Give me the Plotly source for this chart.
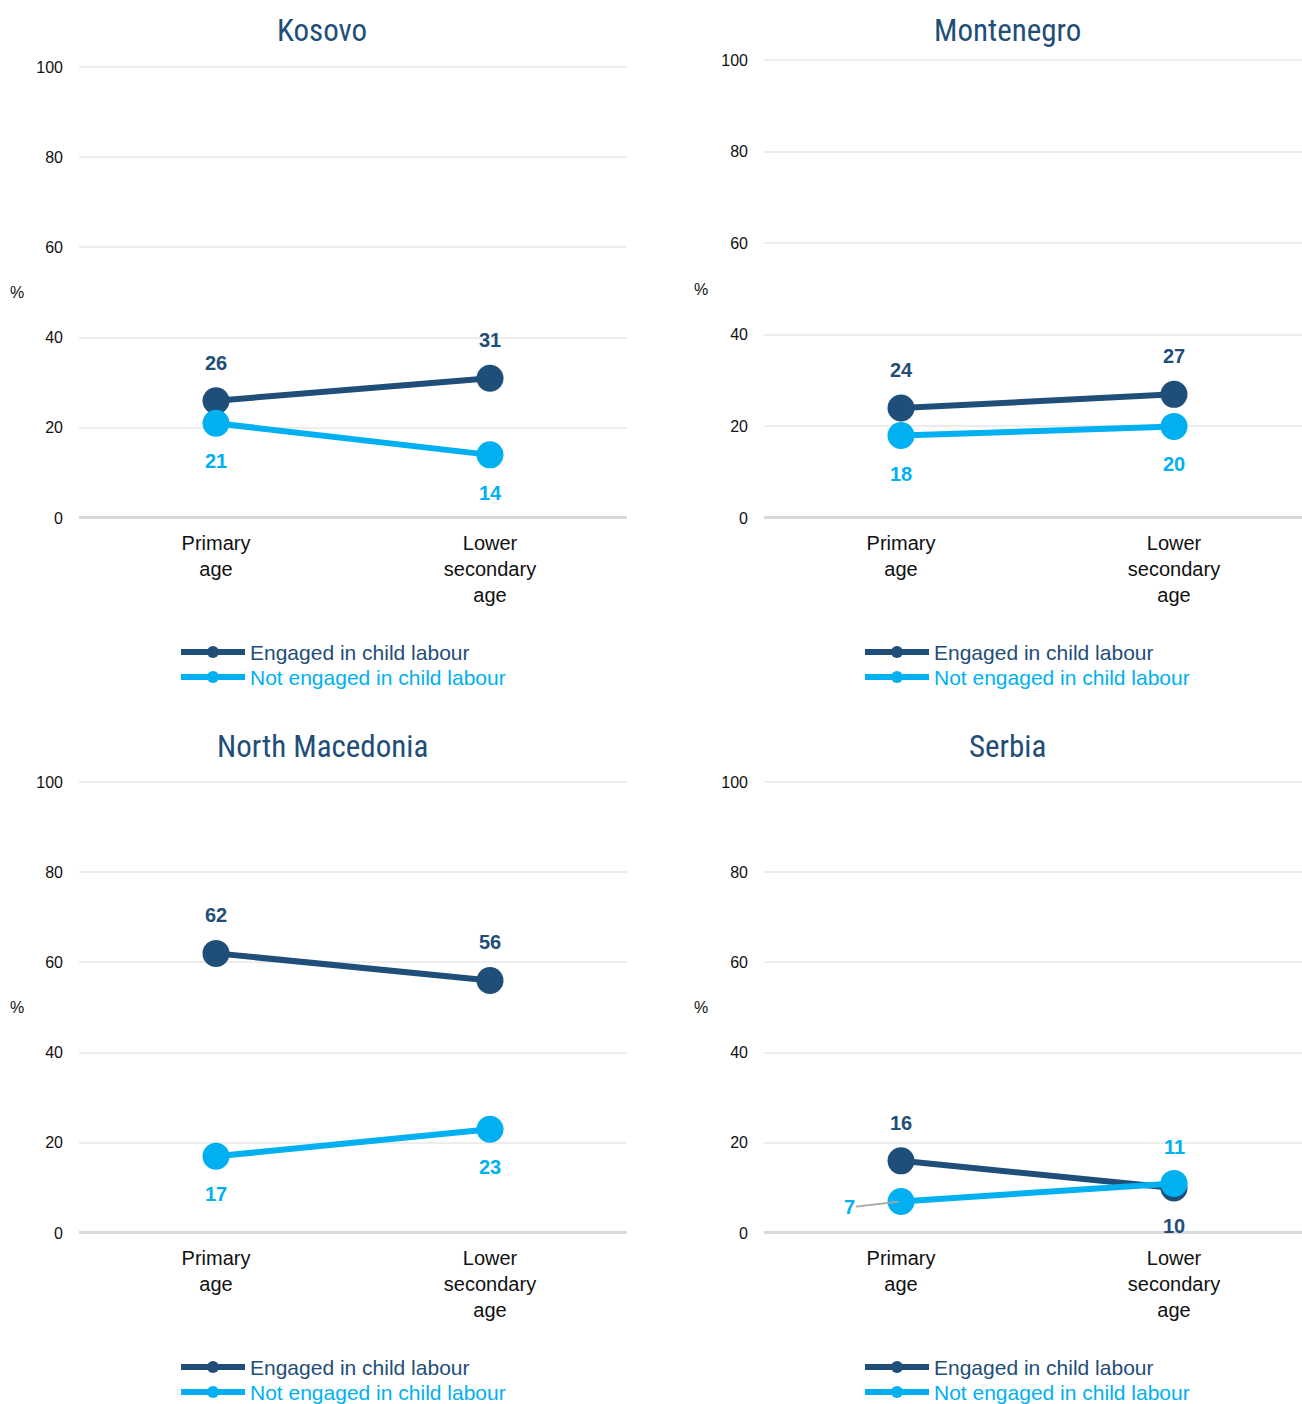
import plotly.graph_objects as go

# ---- data -------------------------------------------------------------
countries = ["Kosovo", "Montenegro", "North Macedonia", "Serbia"]
age_groups = ["Primary<br>age", "Lower<br>secondary<br>age"]
engaged = {
    "Kosovo": [26, 31],
    "Montenegro": [24, 27],
    "North Macedonia": [62, 56],
    "Serbia": [16, 10],
}
not_engaged = {
    "Kosovo": [21, 14],
    "Montenegro": [18, 20],
    "North Macedonia": [17, 23],
    "Serbia": [7, 11],
}
series_names = ["Engaged in child labour", "Not engaged in child labour"]
y_ticks = [0, 20, 40, 60, 80, 100]

# ---- styling ----------------------------------------------------------
W, H = 1302, 1404
DARK = "#1F4E79"
LIGHT = "#00B0F0"
FONT = "Liberation Sans, Arial, sans-serif"
TITLE_FONT = "Liberation Sans Narrow, Arial Narrow, Roboto Condensed, Liberation Sans, sans-serif"
Y_TOP = 100.4  # a little headroom so the 100 gridline is drawn


def px_x(x):
    return x / W


def px_y(y):
    return 1 - y / H


# panel geometry in pixels: x0/x1 plot edges, yt = position of 100, yb = position of 0
panels = {
    "Kosovo": dict(x0=79, x1=627, yt=67, yb=518, cx=216, step=274, title=(322, 30), pct=17, leg=(181, 652)),
    "Montenegro": dict(x0=764, x1=1302, yt=60, yb=518, cx=901, step=273, title=(1007, 30), pct=701, leg=(865, 652)),
    "North Macedonia": dict(x0=79, x1=627, yt=782, yb=1233, cx=216, step=274, title=(322, 746), pct=17, leg=(181, 1367)),
    "Serbia": dict(x0=764, x1=1302, yt=782, yb=1233, cx=901, step=273, title=(1007, 746), pct=701, leg=(865, 1367)),
}

# label placement per point: (dx, dy) pixel shifts from the marker centre
label_pos_default = {"eng": (0, 38), "not": (0, -38)}
label_pos_override = {
    ("Serbia", "eng", 1): (0, -38),
    ("Serbia", "not", 1): (0, 36),
}

fig = go.Figure()
annotations = []
shapes = []

for i, c in enumerate(countries, start=1):
    p = panels[c]
    xa = "x" if i == 1 else f"x{i}"
    ya = "y" if i == 1 else f"y{i}"
    xkey = "xaxis" if i == 1 else f"xaxis{i}"
    ykey = "yaxis" if i == 1 else f"yaxis{i}"

    r0 = -(p["cx"] - p["x0"]) / p["step"]
    r1 = 1 + (p["x1"] - (p["cx"] + p["step"])) / p["step"]
    top_px = p["yb"] - (p["yb"] - p["yt"]) * Y_TOP / 100

    fig.update_layout({
        xkey: dict(
            domain=[px_x(p["x0"]), px_x(p["x1"])],
            anchor=ya,
            type="category",
            range=[r0, r1],
            showgrid=False,
            zeroline=False,
            showline=False,
            ticks="",
            tickfont=dict(family=FONT, size=20, color="#111111"),
            ticklabelstandoff=11,
            automargin=False,
            fixedrange=True,
        ),
        ykey: dict(
            domain=[px_y(p["yb"]), px_y(top_px)],
            anchor=xa,
            range=[0, Y_TOP],
            tickvals=y_ticks,
            showgrid=True,
            gridcolor="#EDEDED",
            gridwidth=2,
            zeroline=True,
            zerolinecolor="#D9D9D9",
            zerolinewidth=2.5,
            showline=False,
            ticks="",
            tickfont=dict(family=FONT, size=16, color="#111111"),
            ticklabelstandoff=15,
            automargin=False,
            fixedrange=True,
        ),
    })

    for key, vals, col in (("eng", engaged[c], DARK), ("not", not_engaged[c], LIGHT)):
        fig.add_trace(go.Scatter(
            x=age_groups, y=vals, xaxis=xa, yaxis=ya,
            mode="lines+markers",
            line=dict(color=col, width=6),
            marker=dict(color=col, size=27),
            cliponaxis=False,
            showlegend=False,
            name=series_names[0] if key == "eng" else series_names[1],
            hoverinfo="x+y",
        ))
        for j, v in enumerate(vals):
            if (c, key, j) == ("Serbia", "not", 0):
                # small value pulled aside with a leader line
                annotations.append(dict(
                    x=age_groups[j], y=v, xref=xa, yref=ya,
                    text=f"<b>{v}</b>", showarrow=True,
                    ax=-52, ay=6, arrowhead=0, arrowwidth=1.8,
                    arrowcolor="#A6A6A6", standoff=2,
                    font=dict(family=FONT, size=20, color=col),
                ))
                continue
            dx, dy = label_pos_override.get((c, key, j), label_pos_default[key])
            annotations.append(dict(
                x=age_groups[j], y=v, xref=xa, yref=ya,
                text=f"<b>{v}</b>", showarrow=False,
                xshift=dx, yshift=dy,
                font=dict(family=FONT, size=20, color=col),
            ))

    # panel title
    tx, ty = p["title"]
    annotations.append(dict(
        x=px_x(tx), y=px_y(ty), xref="paper", yref="paper",
        text=c, showarrow=False, xanchor="center", yanchor="middle",
        font=dict(family=TITLE_FONT, size=31, color=DARK),
    ))
    # unit label
    annotations.append(dict(
        x=px_x(p["pct"]), y=px_y((p["yt"] + p["yb"]) / 2), xref="paper", yref="paper",
        text="%", showarrow=False, xanchor="center", yanchor="middle",
        font=dict(family=FONT, size=16, color="#111111"),
    ))

    # legend rows
    lx, ly = p["leg"]
    for k, (nm, col) in enumerate(zip(series_names, (DARK, LIGHT))):
        yy = ly + k * 25
        shapes.append(dict(
            type="line", xref="paper", yref="paper",
            x0=px_x(lx), x1=px_x(lx + 64), y0=px_y(yy), y1=px_y(yy),
            line=dict(color=col, width=6),
        ))
        shapes.append(dict(
            type="circle", xref="paper", yref="paper",
            x0=px_x(lx + 26), x1=px_x(lx + 38), y0=px_y(yy + 6), y1=px_y(yy - 6),
            fillcolor=col, line=dict(color=col, width=0),
        ))
        annotations.append(dict(
            x=px_x(lx + 67), y=px_y(yy), xref="paper", yref="paper",
            text=nm, showarrow=False, xanchor="left", yanchor="middle",
            font=dict(family=FONT, size=21, color=col),
        ))

fig.update_layout(
    width=W, height=H, autosize=False,
    margin=dict(l=0, r=0, t=0, b=0, autoexpand=False),
    paper_bgcolor="white", plot_bgcolor="white",
    showlegend=False,
    annotations=annotations,
    shapes=shapes,
    font=dict(family=FONT),
)

fig.write_html("out.html")
